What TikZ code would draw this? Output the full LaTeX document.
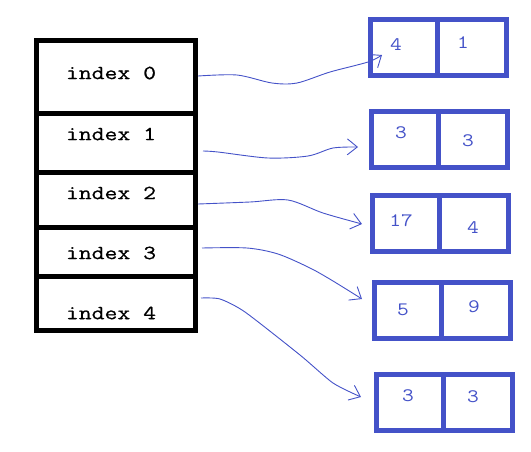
\documentclass[tikz,border=0pt]{standalone}
\usepackage{fontspec}
\newfontfamily\cour[FakeStretch=1.2]{Latin Modern Mono}
\newfontfamily\courb[FakeStretch=1.25,FakeBold=0.6]{Latin Modern Mono}
\usetikzlibrary{arrows.meta}
\definecolor{pblue}{RGB}{68,82,200}
\begin{document}
\begin{tikzpicture}[x=1pt,y=-1pt,
  cell/.style={draw=black,line width=5pt,rectangle,inner sep=0pt,outer sep=0pt,minimum width=159pt},
  idx/.style={font=\courb\fontsize{20}{20}\selectfont,text=black,inner sep=0pt},
  lcell/.style={draw=pblue,line width=5pt,rectangle,inner sep=0pt,outer sep=0pt,minimum width=67pt,minimum height=56pt},
  rcell/.style={draw=pblue,line width=5pt,rectangle,inner sep=0pt,outer sep=0pt,minimum width=69pt,minimum height=56pt,anchor=west},
  num/.style={font=\cour\fontsize{19}{19}\selectfont,text=pblue,inner sep=0pt},
  arr/.style={draw=pblue,line width=0.9pt,-{Straight Barb[length=10pt,width=16pt]}}]
\useasboundingbox (0,0) rectangle (531,451);
% array cells
\node[cell,minimum height=73pt] (c0) at (115.5,76.5) {};
\node[cell,minimum height=59pt] (c1) at (115.5,142.5) {};
\node[cell,minimum height=55pt] (c2) at (115.5,199.5) {};
\node[cell,minimum height=49pt] (c3) at (115.5,251.5) {};
\node[cell,minimum height=54pt] (c4) at (115.5,303) {};
\node[idx] (t0) at (111,73) {index 0};
\node[idx] (t1) at (111,134) {index 1};
\node[idx] (t2) at (111,193) {index 2};
\node[idx] (t3) at (111,253) {index 3};
\node[idx] (t4) at (111,313) {index 4};
% pair boxes
\node[lcell] (l0) at (404,47.5) {};
\node[rcell] (r0) at (l0.east) {};
\node[lcell] (l1) at (405,139.5) {};
\node[rcell] (r1) at (l1.east) {};
\node[lcell] (l2) at (406,223) {};
\node[rcell] (r2) at (l2.east) {};
\node[lcell] (l3) at (408,310.5) {};
\node[rcell] (r3) at (l3.east) {};
\node[lcell] (l4) at (410,402.5) {};
\node[rcell] (r4) at (l4.east) {};
\node[num] (n0a) at (396,45) {4};
\node[num] (n0b) at (463,43) {1};
\node[num] (n1a) at (401,133) {3};
\node[num] (n1b) at (468,141) {3};
\node[num] (n2a) at (401,221) {17};
\node[num] (n2b) at (473,228) {4};
\node[num] (n3a) at (403,310) {5};
\node[num] (n3b) at (474,307) {9};
\node[num] (n4a) at (408,396) {3};
\node[num] (n4b) at (473,397) {3};
% hand-drawn arrows
\draw[arr] plot[smooth,tension=0.5] coordinates {([shift={(3,-0.5)}]c0.east) (237,75) (272,83) (297,83) (330,72) (368,62) ([shift={(11.5,7.5)}]l0.west)};
\draw[arr] plot[smooth,tension=0.5] coordinates {([shift={(8,8.5)}]c1.east) (218,152) (268,158) (308,156) (333,148) ([shift={(-13.5,7.5)}]l1.west)};
\draw[arr] plot[smooth,tension=0.5] coordinates {([shift={(3,4.5)}]c2.east) (250,202) (288,200) (323,213) ([shift={(-10.5,1)}]l2.west)};
\draw[arr] plot[smooth,tension=0.5] coordinates {([shift={(7,-3.5)}]c3.east) (247,248) (278,254) (310,268) (333,281) ([shift={(-12.5,-11.5)}]l3.west)};
\draw[arr] plot[smooth,tension=0.4] coordinates {([shift={(6,-5)}]c4.east) (220,299) (245,312) (300,355) (333,383) ([shift={(-15.5,-5.5)}]l4.west)};
\end{tikzpicture}
\end{document}
